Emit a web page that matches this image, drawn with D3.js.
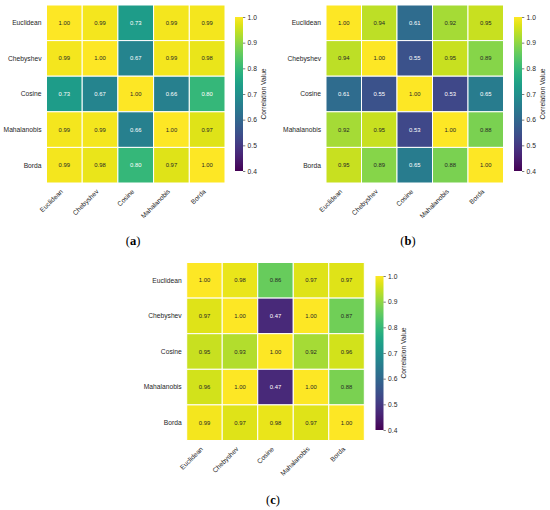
<!DOCTYPE html>
<html>
<head>
<meta charset="utf-8">
<script src="https://cdn.jsdelivr.net/npm/d3@7"></script>
<style>
  body { margin: 0; background: #fff; }
  text { font-family: "Liberation Sans", Arial, sans-serif; }
</style>
</head>
<body>
<div id="chart"></div>
<script>
const metrics = ["Euclidean", "Chebyshev", "Cosine", "Mahalanobis", "Borda"];

const corrA = [
  [1.00, 0.99, 0.73, 0.99, 0.99],
  [0.99, 1.00, 0.67, 0.99, 0.98],
  [0.73, 0.67, 1.00, 0.66, 0.80],
  [0.99, 0.99, 0.66, 1.00, 0.97],
  [0.99, 0.98, 0.80, 0.97, 1.00]
];

const corrB = [
  [1.00, 0.94, 0.61, 0.92, 0.95],
  [0.94, 1.00, 0.55, 0.95, 0.89],
  [0.61, 0.55, 1.00, 0.53, 0.65],
  [0.92, 0.95, 0.53, 1.00, 0.88],
  [0.95, 0.89, 0.65, 0.88, 1.00]
];

const corrC = [
  [1.00, 0.98, 0.86, 0.97, 0.97],
  [0.97, 1.00, 0.47, 1.00, 0.87],
  [0.95, 0.93, 1.00, 0.92, 0.96],
  [0.96, 1.00, 0.47, 1.00, 0.88],
  [0.99, 0.97, 0.98, 0.97, 1.00]
];

const cbTicks = [0.4, 0.5, 0.6, 0.7, 0.8, 0.9, 1.0];
const vmin = 0.4, vmax = 1.0;

const svg = d3.select("#chart")
  .append("svg")
  .attr("width", 550)
  .attr("height", 510);

const color = d3.scaleSequential(d3.interpolateViridis).domain([vmin, vmax]);

// vertical gradient for the colorbars (shared)
const grad = svg.append("defs").append("linearGradient")
  .attr("id", "viridis-grad")
  .attr("x1", 0).attr("y1", 1).attr("x2", 0).attr("y2", 0);
d3.range(0, 1.0001, 0.05).forEach(t => {
  grad.append("stop")
    .attr("offset", t)
    .attr("stop-color", d3.interpolateViridis(t));
});

// seaborn-style text colour choice
function textColor(v) {
  const c = d3.rgb(color(v));
  const lin = x => {
    x /= 255;
    return x <= 0.03928 ? x / 12.92 : Math.pow((x + 0.055) / 1.055, 2.4);
  };
  const lum = 0.2126 * lin(c.r) + 0.7152 * lin(c.g) + 0.0722 * lin(c.b);
  return lum > 0.408 ? "#262626" : "#ffffff";
}

function drawPanel(matrix, box, cb, tag) {
  const g = svg.append("g");

  const x = d3.scaleBand().domain(metrics).range([box.x, box.x + box.w]);
  const y = d3.scaleBand().domain(metrics).range([box.y, box.y + box.h]);

  const cells = [];
  matrix.forEach((row, i) => row.forEach((v, j) => {
    cells.push({ row: metrics[i], col: metrics[j], v: v });
  }));

  g.selectAll("rect.cell")
    .data(cells)
    .enter()
    .append("rect")
    .attr("class", "cell")
    .attr("x", d => x(d.col))
    .attr("y", d => y(d.row))
    .attr("width", x.bandwidth())
    .attr("height", y.bandwidth())
    .attr("fill", d => color(d.v))
    .attr("stroke", "#fff")
    .attr("stroke-width", 1);

  g.selectAll("text.annot")
    .data(cells)
    .enter()
    .append("text")
    .attr("class", "annot")
    .attr("x", d => x(d.col) + x.bandwidth() / 2)
    .attr("y", d => y(d.row) + y.bandwidth() / 2)
    .attr("dy", "0.35em")
    .attr("text-anchor", "middle")
    .attr("font-size", "5.9px")
    .attr("fill", d => textColor(d.v))
    .text(d => d3.format(".2f")(d.v));

  // row labels
  g.selectAll("text.ylab")
    .data(metrics)
    .enter()
    .append("text")
    .attr("class", "ylab")
    .attr("x", box.x - 5)
    .attr("y", d => y(d) + y.bandwidth() / 2)
    .attr("dy", "0.35em")
    .attr("text-anchor", "end")
    .attr("font-size", "6.7px")
    .attr("fill", "#262626")
    .text(d => d);

  // column labels, rotated 45
  g.selectAll("text.xlab")
    .data(metrics)
    .enter()
    .append("text")
    .attr("class", "xlab")
    .attr("transform", d => `translate(${x(d) + x.bandwidth() / 2 - 1}, ${box.y + box.h + 9}) rotate(-45)`)
    .attr("text-anchor", "end")
    .attr("font-size", "6.7px")
    .attr("fill", "#262626")
    .text(d => d);

  // colorbar
  const cbScale = d3.scaleLinear().domain([vmin, vmax]).range([cb.y + cb.h, cb.y]);
  g.append("rect")
    .attr("x", cb.x)
    .attr("y", cb.y)
    .attr("width", cb.w)
    .attr("height", cb.h)
    .attr("fill", "url(#viridis-grad)");

  const cbAxis = d3.axisRight(cbScale)
    .tickValues(cbTicks)
    .tickFormat(d3.format(".1f"))
    .tickSize(2.3)
    .tickPadding(2.3);

  const axG = g.append("g")
    .attr("transform", `translate(${cb.x + cb.w}, 0)`)
    .call(cbAxis);
  axG.select(".domain").remove();
  axG.selectAll(".tick line").attr("stroke", "#262626").attr("stroke-width", 0.6);
  axG.selectAll(".tick text")
    .attr("font-size", "6.7px")
    .attr("fill", "#262626")
    .attr("font-family", "Liberation Sans, Arial, sans-serif");

  g.append("text")
    .attr("transform", `translate(${cb.x + cb.w + 22.5}, ${cb.y + cb.h / 2}) rotate(-90)`)
    .attr("text-anchor", "middle")
    .attr("font-size", "6.7px")
    .attr("fill", "#262626")
    .text("Correlation Value");

  // panel tag like (a)
  const lab = g.append("text")
    .attr("x", tag.x)
    .attr("y", tag.y)
    .attr("text-anchor", "middle")
    .attr("font-size", "12.5px")
    .attr("fill", "#000")
    .style("font-family", "Liberation Serif, Times New Roman, serif");
  lab.append("tspan").text("(");
  lab.append("tspan").attr("font-weight", "bold").text(tag.t);
  lab.append("tspan").text(")");
}

drawPanel(corrA,
  { x: 46.5, y: 5, w: 178.5, h: 178 },
  { x: 235, y: 17, w: 8, h: 154 },
  { x: 133, y: 245, t: "a" });

drawPanel(corrB,
  { x: 326, y: 5, w: 177.5, h: 178 },
  { x: 514, y: 17, w: 8, h: 154 },
  { x: 408, y: 245, t: "b" });

drawPanel(corrC,
  { x: 186.7, y: 262.5, w: 177.6, h: 178 },
  { x: 375.5, y: 276, w: 8, h: 154 },
  { x: 273, y: 504, t: "c" });
</script>
</body>
</html>
